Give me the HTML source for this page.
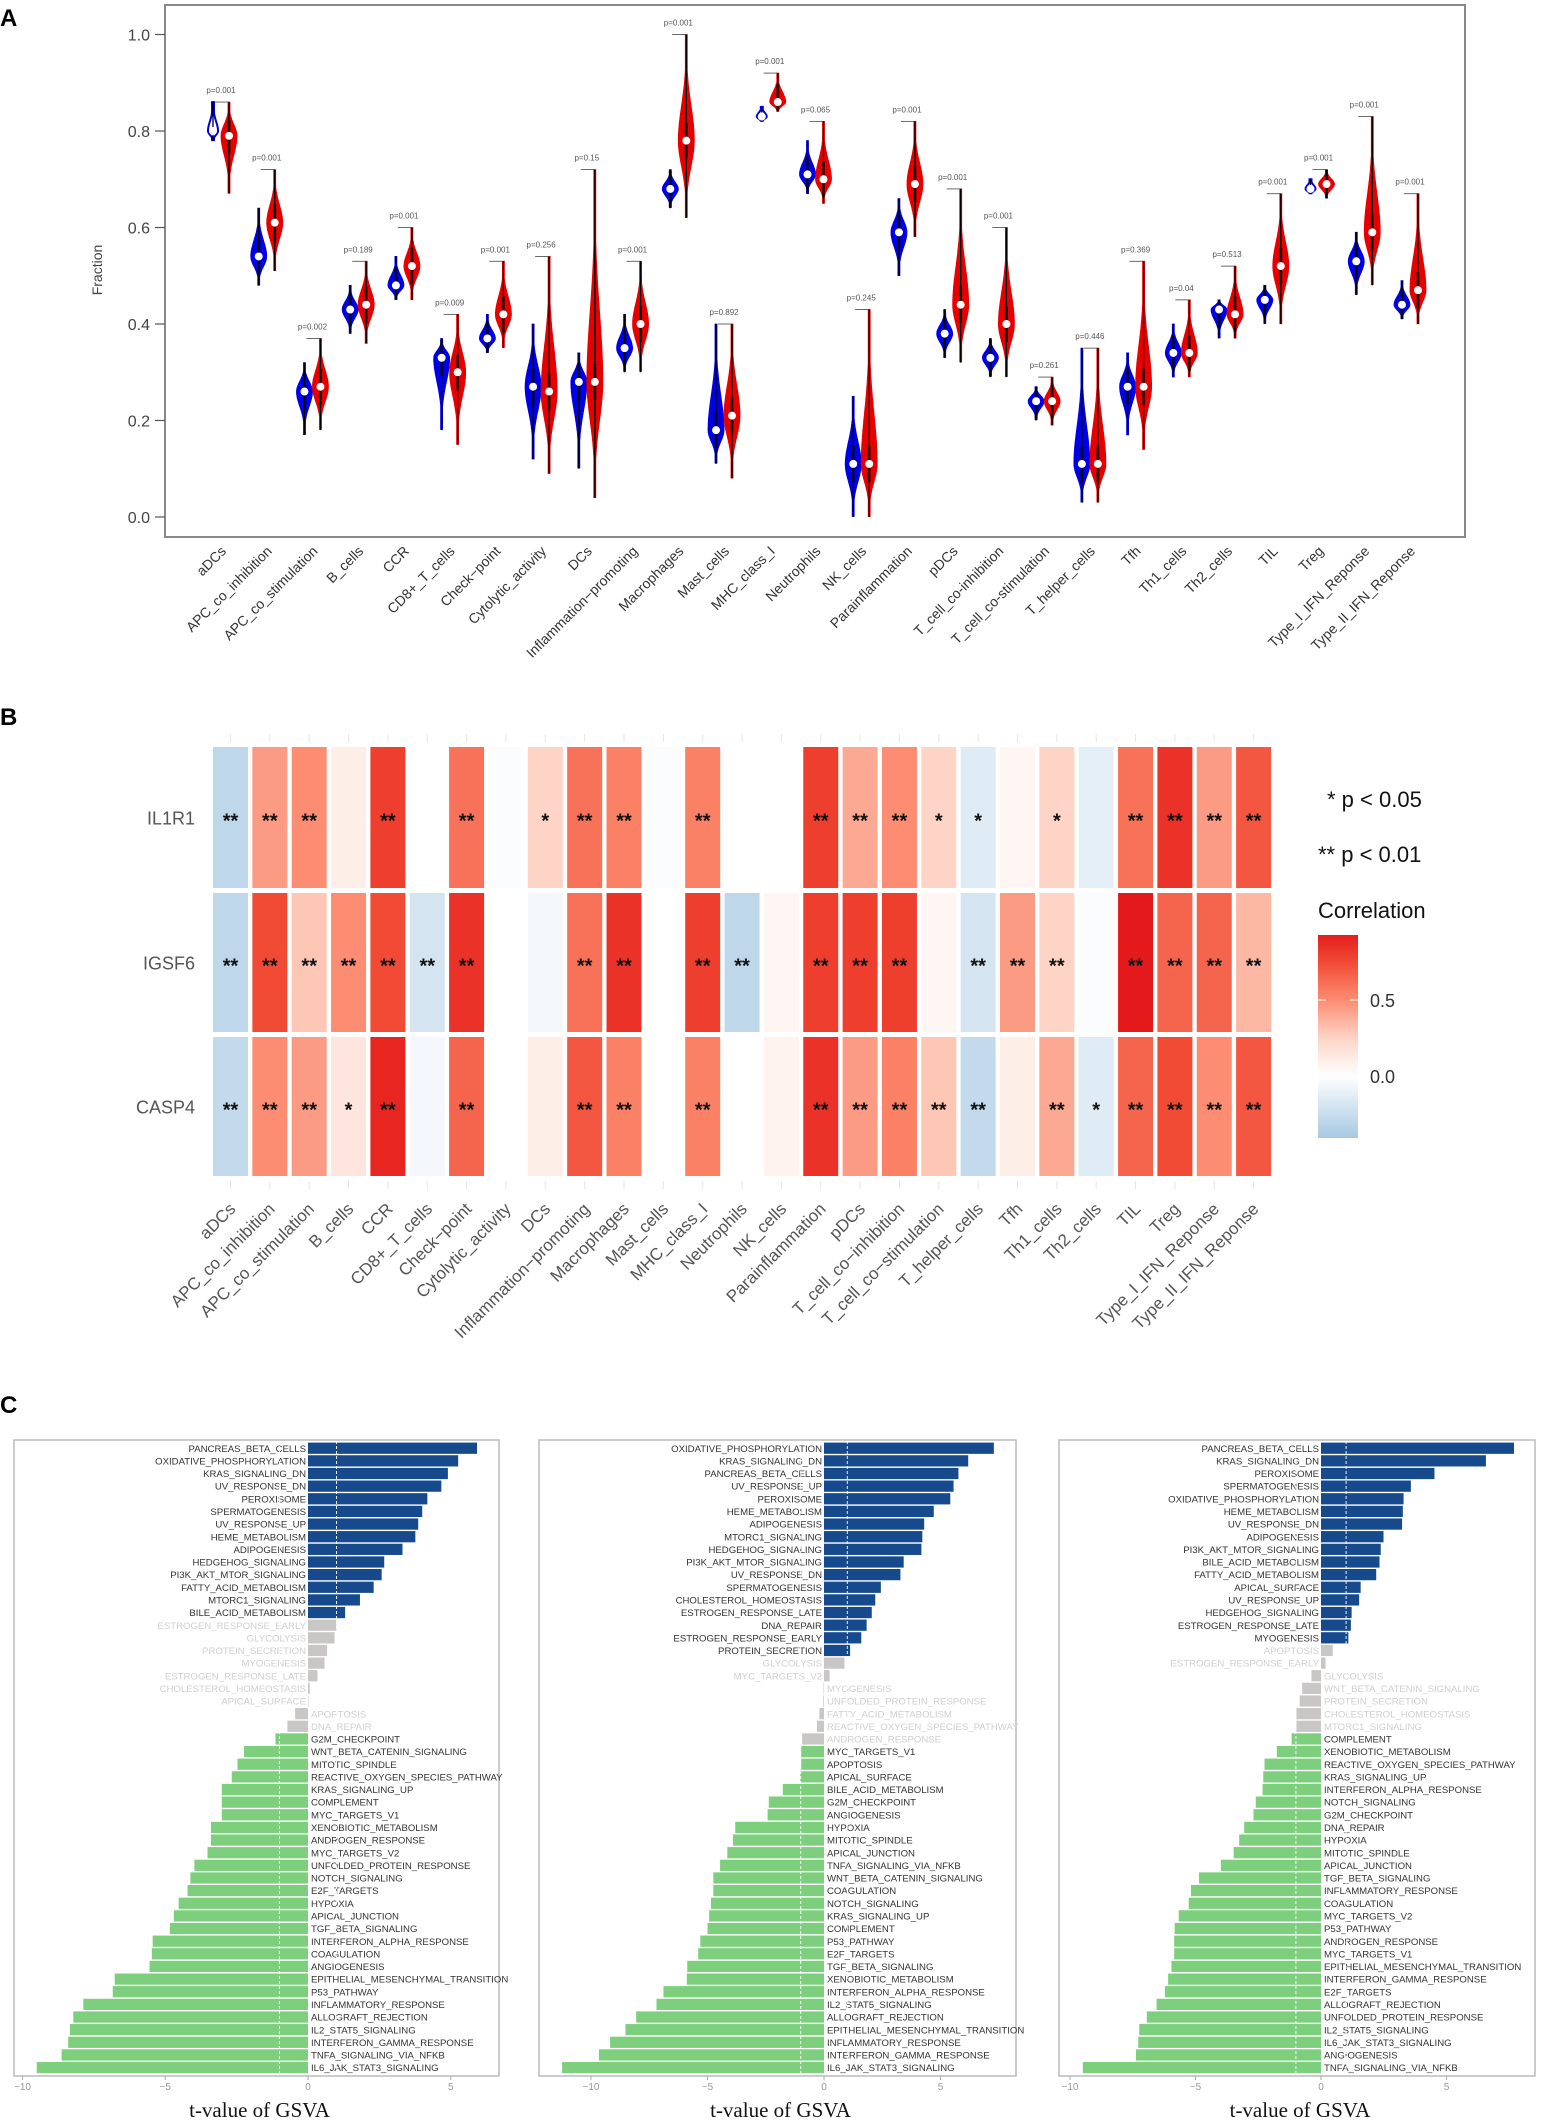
<!DOCTYPE html>
<html><head><meta charset="utf-8">
<style>
html,body{margin:0;padding:0;background:#fff;}
svg{display:block;font-family:"Liberation Sans",Arial,sans-serif;}
</style></head>
<body>
<svg id="s" width="1549" height="2120" viewBox="0 0 1549 2120" xmlns="http://www.w3.org/2000/svg">
<rect width="1549" height="2120" fill="#fff"/>
<text x="0" y="26" font-size="24" font-weight="bold" fill="#000">A</text>
<text x="0" y="725" font-size="24" font-weight="bold" fill="#000">B</text>
<text x="0" y="1413" font-size="24" font-weight="bold" fill="#000">C</text>
<g id="ga"></g><g id="gb"></g><g id="gc"></g>
</svg>
<script>
var NS="http://www.w3.org/2000/svg";
function el(p,t,a,txt){var e=document.createElementNS(NS,t);for(var k in a)e.setAttribute(k,a[k]);if(txt!==undefined)e.textContent=txt;p.appendChild(e);return e;}
var cats=["aDCs","APC_co_inhibition","APC_co_stimulation","B_cells","CCR","CD8+_T_cells","Check-point","Cytolytic_activity","DCs","Inflammation-promoting","Macrophages","Mast_cells","MHC_class_I","Neutrophils","NK_cells","Parainflammation","pDCs","T_cell_co-inhibition","T_cell_co-stimulation","T_helper_cells","Tfh","Th1_cells","Th2_cells","TIL","Treg","Type_I_IFN_Reponse","Type_II_IFN_Reponse"];
// ---------- Panel A
var ga=document.getElementById("ga");
function Y(v){return 517-482.5*v;}
el(ga,"rect",{x:165,y:5,width:1300,height:532,fill:"none",stroke:"#888","stroke-width":2});
[0,0.2,0.4,0.6,0.8,1.0].forEach(function(v){var y=Y(v);el(ga,"line",{x1:155,x2:165,y1:y,y2:y,stroke:"#555","stroke-width":1.2});el(ga,"text",{x:150,y:y+6,"font-size":16,"text-anchor":"end",fill:"#444"},v.toFixed(1));});
el(ga,"text",{x:102,y:270,"font-size":14,fill:"#444","text-anchor":"middle",transform:"rotate(-90 102 270)"},"Fraction");
var A=[[.80,.78,.86,.79,.67,.86,"0.001"],[.54,.48,.64,.61,.51,.72,"0.001"],[.26,.17,.32,.27,.18,.37,"0.002"],[.43,.38,.48,.44,.36,.53,"0.189"],[.48,.45,.54,.52,.45,.60,"0.001"],[.33,.18,.37,.30,.15,.42,"0.009"],[.37,.34,.42,.42,.35,.53,"0.001"],[.27,.12,.40,.26,.09,.54,"0.256"],[.28,.10,.34,.28,.04,.72,"0.15"],[.35,.30,.42,.40,.30,.53,"0.001"],[.68,.64,.72,.78,.62,1.0,"0.001"],[.18,.11,.40,.21,.08,.40,"0.892"],[.83,.82,.85,.86,.84,.92,"0.001"],[.71,.67,.78,.70,.65,.82,"0.065"],[.11,.0,.25,.11,.0,.43,"0.245"],[.59,.50,.66,.69,.58,.82,"0.001"],[.38,.33,.43,.44,.32,.68,"0.001"],[.33,.29,.37,.40,.29,.60,"0.001"],[.24,.20,.27,.24,.19,.29,"0.261"],[.11,.03,.35,.11,.03,.35,"0.446"],[.27,.17,.34,.27,.14,.53,"0.369"],[.34,.29,.40,.34,.29,.45,"0.04"],[.43,.37,.45,.42,.37,.52,"0.513"],[.45,.40,.48,.52,.40,.67,"0.001"],[.68,.67,.70,.69,.66,.72,"0.001"],[.53,.46,.59,.59,.48,.83,"0.001"],[.44,.41,.49,.47,.40,.67,"0.001"]];
function violin(cx,med,mn,mx,col,hollow){
  var W=hollow?5:8,ym=Y(med),yt=Y(mx),yb=Y(mn),L=[],R=[];
  var su=(ym-yt)*0.45+1,sd=(yb-ym)*0.45+1;
  for(var y=yt;y<=yb+0.01;y+=1){var s=y<ym?su:sd;var w=Math.max(1,W*Math.exp(-Math.pow((y-ym)/s,2)));L.push((cx-w).toFixed(1)+","+y.toFixed(1));R.unshift((cx+w).toFixed(1)+","+y.toFixed(1));}
  el(ga,"polygon",{points:L.concat(R).join(" "),fill:hollow?"#fff":col,stroke:col,"stroke-width":hollow?2:0.8});
  el(ga,"line",{x1:cx,x2:cx,y1:yt,y2:yb,stroke:"#000","stroke-width":1.3});
  if(!hollow)el(ga,"line",{x1:cx,x2:cx,y1:Math.max(yt,ym-18),y2:Math.min(yb,ym+18),stroke:"#000","stroke-width":3,opacity:0.6});
  el(ga,"circle",{cx:cx,cy:ym,r:4,fill:"#fff"});
}
A.forEach(function(d,i){
  var c=221+i*45.73,bx=c-8,rx=c+8;
  violin(bx,d[0],d[1],d[2],"#0000e6",i==0||i==12||i==24);
  violin(rx,d[3],d[4],d[5],"#e60000",false);
  var top=Y(Math.max(d[2],d[5]));
  el(ga,"line",{x1:bx+2,x2:rx,y1:top,y2:top,stroke:"#444","stroke-width":0.8});
  el(ga,"text",{x:c,y:top-9,"font-size":8,"text-anchor":"middle",fill:"#555"},"p="+d[6]);
  el(ga,"text",{x:c+6,y:552,"font-size":14,"text-anchor":"end",fill:"#333",transform:"rotate(-45 "+(c+6)+" 552)"},cats[i].replace("Inflammation-promoting","Inflammation\u2212promoting").replace("Check-point","Check\u2212point"));
});
// ---------- Panel B
var gb=document.getElementById("gb");
var H=[[-.3,.45,.5,.1,.8,0,.6,-.02,.25,.6,.55,-.02,.55,0,0,.8,.4,.5,.25,-.15,.05,.25,-.12,.6,.85,.45,.7],
[-.3,.75,.3,.5,.75,-.2,.85,0,-.05,.6,.85,0,.8,-.3,.05,.8,.8,.8,.05,-.2,.45,.25,-.02,.95,.65,.65,.35],
[-.28,.5,.45,.15,.9,-.05,.65,0,.1,.7,.55,0,.55,0,.07,.85,.45,.55,.3,-.28,.1,.4,-.15,.65,.75,.5,.7]];
var S=[["**","**","**","","**","","**","","*","**","**","","**","","","**","**","**","*","*","","*","","**","**","**","**"],
["**","**","**","**","**","**","**","","","**","**","","**","**","","**","**","**","","**","**","**","","**","**","**","**"],
["**","**","**","*","**","","**","","","**","**","","**","","","**","**","**","**","**","","**","*","**","**","**","**"]];
function lerp(a,b,t){return [0,1,2].map(function(i){return Math.round(a[i]+(b[i]-a[i])*t);});}
function cmap(v){
  var st=[[-0.45,[158,195,224]],[0,[255,255,255]],[0.25,[253,212,198]],[0.5,[252,141,114]],[0.75,[241,74,53]],[0.95,[227,25,27]]];
  if(v<=st[0][0])return "rgb("+st[0][1]+")";
  for(var i=0;i<st.length-1;i++){if(v<=st[i+1][0]){var t=(v-st[i][0])/(st[i+1][0]-st[i][0]);return "rgb("+lerp(st[i][1],st[i+1][1],t)+")";}}
  return "rgb("+st[st.length-1][1]+")";
}
var rows=[[747,888],[893,1032],[1037,1176]],names=["IL1R1","IGSF6","CASP4"];
for(var j=0;j<27;j++){var cx=230.5+j*39.35;
  el(gb,"line",{x1:cx,x2:cx,y1:734,y2:742,stroke:"#e6e6e6","stroke-width":1});
  el(gb,"line",{x1:cx,x2:cx,y1:1181,y2:1189,stroke:"#e6e6e6","stroke-width":1});
}
for(var r=0;r<3;r++){
  el(gb,"text",{x:195,y:(rows[r][0]+rows[r][1])/2+7,"font-size":18,"text-anchor":"end",fill:"#555"},names[r]);
  for(var j=0;j<27;j++){var cx=230.5+j*39.35;
    el(gb,"rect",{x:cx-17.5,y:rows[r][0],width:35,height:rows[r][1]-rows[r][0],fill:cmap(H[r][j])});
    if(S[r][j])el(gb,"text",{x:cx,y:(rows[r][0]+rows[r][1])/2+10,"font-size":20,"font-weight":"bold","text-anchor":"middle",fill:"#111"},S[r][j]);
  }
}
for(var j=0;j<27;j++){var cx=230.5+j*39.35+6;
  el(gb,"text",{x:cx,y:1210,"font-size":17,"text-anchor":"end",fill:"#555",transform:"rotate(-45 "+cx+" 1210)"},cats[j].replace("Inflammation-promoting","Inflammation\u2212promoting").replace("Check-point","Check\u2212point").replace("co-","co\u2212"));
}
el(gb,"text",{x:1327,y:807,"font-size":22,fill:"#111"},"* p < 0.05");
el(gb,"text",{x:1318,y:862,"font-size":22,fill:"#111"},"** p < 0.01");
el(gb,"text",{x:1318,y:918,"font-size":22,fill:"#111"},"Correlation");
var defs=el(gb,"defs",{});var lg=el(defs,"linearGradient",{id:"cb",x1:0,y1:1,x2:0,y2:0});
for(var k=0;k<=20;k++){var v=-0.41+k*(1.34/20);el(lg,"stop",{offset:(k/20),"stop-color":cmap(v)});}
el(gb,"rect",{x:1318,y:935,width:40,height:203,fill:"url(#cb)"});
el(gb,"line",{x1:1318,x2:1326,y1:1000,y2:1000,stroke:"#fff"});el(gb,"line",{x1:1350,x2:1358,y1:1000,y2:1000,stroke:"#fff"});
el(gb,"line",{x1:1318,x2:1326,y1:1076,y2:1076,stroke:"#fff"});el(gb,"line",{x1:1350,x2:1358,y1:1076,y2:1076,stroke:"#fff"});
el(gb,"text",{x:1370,y:1007,"font-size":18,fill:"#333"},"0.5");
el(gb,"text",{x:1370,y:1083,"font-size":18,fill:"#333"},"0.0");
// ---------- Panel C
var gc=document.getElementById("gc");
var C=[
{x0:14,x1:499,z:308,u:28.55,nb:14,ng:9,d:[["PANCREAS_BETA_CELLS",5.92],["OXIDATIVE_PHOSPHORYLATION",5.26],["KRAS_SIGNALING_DN",4.9],["UV_RESPONSE_DN",4.67],["PEROXISOME",4.18],["SPERMATOGENESIS",4.0],["UV_RESPONSE_UP",3.86],["HEME_METABOLISM",3.76],["ADIPOGENESIS",3.31],["HEDGEHOG_SIGNALING",2.67],["PI3K_AKT_MTOR_SIGNALING",2.58],["FATTY_ACID_METABOLISM",2.3],["MTORC1_SIGNALING",1.82],["BILE_ACID_METABOLISM",1.3],["ESTROGEN_RESPONSE_EARLY",.99],["GLYCOLYSIS",.93],["PROTEIN_SECRETION",.67],["MYOGENESIS",.58],["ESTROGEN_RESPONSE_LATE",.33],["CHOLESTEROL_HOMEOSTASIS",.06],["APICAL_SURFACE",0.001],["APOPTOSIS",-.45],["DNA_REPAIR",-.72],["G2M_CHECKPOINT",-1.14],["WNT_BETA_CATENIN_SIGNALING",-2.24],["MITOTIC_SPINDLE",-2.47],["REACTIVE_OXYGEN_SPECIES_PATHWAY",-2.67],["KRAS_SIGNALING_UP",-3.02],["COMPLEMENT",-3.02],["MYC_TARGETS_V1",-3.02],["XENOBIOTIC_METABOLISM",-3.4],["ANDROGEN_RESPONSE",-3.4],["MYC_TARGETS_V2",-3.52],["UNFOLDED_PROTEIN_RESPONSE",-3.98],["NOTCH_SIGNALING",-4.12],["E2F_TARGETS",-4.22],["HYPOXIA",-4.53],["APICAL_JUNCTION",-4.7],["TGF_BETA_SIGNALING",-4.84],["INTERFERON_ALPHA_RESPONSE",-5.44],["COAGULATION",-5.47],["ANGIOGENESIS",-5.55],["EPITHELIAL_MESENCHYMAL_TRANSITION",-6.77],["P53_PATHWAY",-6.84],["INFLAMMATORY_RESPONSE",-7.87],["ALLOGRAFT_REJECTION",-8.22],["IL2_STAT5_SIGNALING",-8.34],["INTERFERON_GAMMA_RESPONSE",-8.4],["TNFA_SIGNALING_VIA_NFKB",-8.63],["IL6_JAK_STAT3_SIGNALING",-9.5]]},
{x0:539,x1:1016,z:824,u:23.3,nb:17,ng:7,d:[["OXIDATIVE_PHOSPHORYLATION",7.29],["KRAS_SIGNALING_DN",6.19],["PANCREAS_BETA_CELLS",5.77],["UV_RESPONSE_UP",5.56],["PEROXISOME",5.42],["HEME_METABOLISM",4.71],["ADIPOGENESIS",4.3],["MTORC1_SIGNALING",4.22],["HEDGEHOG_SIGNALING",4.18],["PI3K_AKT_MTOR_SIGNALING",3.42],["UV_RESPONSE_DN",3.28],["SPERMATOGENESIS",2.44],["CHOLESTEROL_HOMEOSTASIS",2.2],["ESTROGEN_RESPONSE_LATE",2.05],["DNA_REPAIR",1.83],["ESTROGEN_RESPONSE_EARLY",1.6],["PROTEIN_SECRETION",1.12],["GLYCOLYSIS",.88],["MYC_TARGETS_V2",.24],["MYOGENESIS",-0.02],["UNFOLDED_PROTEIN_RESPONSE",-.03],["FATTY_ACID_METABOLISM",-.2],["REACTIVE_OXYGEN_SPECIES_PATHWAY",-.3],["ANDROGEN_RESPONSE",-.94],["MYC_TARGETS_V1",-.98],["APOPTOSIS",-.98],["APICAL_SURFACE",-1.02],["BILE_ACID_METABOLISM",-1.77],["G2M_CHECKPOINT",-2.37],["ANGIOGENESIS",-2.42],["HYPOXIA",-3.81],["MITOTIC_SPINDLE",-3.91],["APICAL_JUNCTION",-4.15],["TNFA_SIGNALING_VIA_NFKB",-4.46],["WNT_BETA_CATENIN_SIGNALING",-4.75],["COAGULATION",-4.75],["NOTCH_SIGNALING",-4.85],["KRAS_SIGNALING_UP",-4.93],["COMPLEMENT",-5.0],["P53_PATHWAY",-5.31],["E2F_TARGETS",-5.4],["TGF_BETA_SIGNALING",-5.87],["XENOBIOTIC_METABOLISM",-5.89],["INTERFERON_ALPHA_RESPONSE",-6.89],["IL2_STAT5_SIGNALING",-7.19],["ALLOGRAFT_REJECTION",-8.06],["EPITHELIAL_MESENCHYMAL_TRANSITION",-8.52],["INFLAMMATORY_RESPONSE",-9.18],["INTERFERON_GAMMA_RESPONSE",-9.66],["IL6_JAK_STAT3_SIGNALING",-11.24]]},
{x0:1059,x1:1535,z:1321,u:25.1,nb:16,ng:7,d:[["PANCREAS_BETA_CELLS",7.69],["KRAS_SIGNALING_DN",6.57],["PEROXISOME",4.52],["SPERMATOGENESIS",3.58],["OXIDATIVE_PHOSPHORYLATION",3.29],["HEME_METABOLISM",3.26],["UV_RESPONSE_DN",3.23],["ADIPOGENESIS",2.49],["PI3K_AKT_MTOR_SIGNALING",2.38],["BILE_ACID_METABOLISM",2.33],["FATTY_ACID_METABOLISM",2.2],["APICAL_SURFACE",1.58],["UV_RESPONSE_UP",1.52],["HEDGEHOG_SIGNALING",1.22],["ESTROGEN_RESPONSE_LATE",1.19],["MYOGENESIS",1.09],["APOPTOSIS",.47],["ESTROGEN_RESPONSE_EARLY",.18],["GLYCOLYSIS",-.38],["WNT_BETA_CATENIN_SIGNALING",-.75],["PROTEIN_SECRETION",-.85],["CHOLESTEROL_HOMEOSTASIS",-.98],["MTORC1_SIGNALING",-.98],["COMPLEMENT",-1.17],["XENOBIOTIC_METABOLISM",-1.76],["REACTIVE_OXYGEN_SPECIES_PATHWAY",-2.25],["KRAS_SIGNALING_UP",-2.3],["INTERFERON_ALPHA_RESPONSE",-2.33],["NOTCH_SIGNALING",-2.6],["G2M_CHECKPOINT",-2.69],["DNA_REPAIR",-3.06],["HYPOXIA",-3.26],["MITOTIC_SPINDLE",-3.48],["APICAL_JUNCTION",-3.99],["TGF_BETA_SIGNALING",-4.86],["INFLAMMATORY_RESPONSE",-5.18],["COAGULATION",-5.27],["MYC_TARGETS_V2",-5.67],["P53_PATHWAY",-5.83],["ANDROGEN_RESPONSE",-5.85],["MYC_TARGETS_V1",-5.85],["EPITHELIAL_MESENCHYMAL_TRANSITION",-5.96],["INTERFERON_GAMMA_RESPONSE",-6.09],["E2F_TARGETS",-6.22],["ALLOGRAFT_REJECTION",-6.55],["UNFOLDED_PROTEIN_RESPONSE",-6.94],["IL2_STAT5_SIGNALING",-7.24],["IL6_JAK_STAT3_SIGNALING",-7.28],["ANGIOGENESIS",-7.37],["TNFA_SIGNALING_VIA_NFKB",-9.49]]}];
C.forEach(function(p){
  el(gc,"rect",{x:p.x0,y:1440,width:p.x1-p.x0,height:636,fill:"#fff",stroke:"#bbb","stroke-width":1.5});
  var pitch=632/50;
  p.d.forEach(function(d,i){
    var y=1442+i*pitch,v=d[1],col,tc;
    if(i<p.nb){col="#164a8c";tc="#333";}else if(i<p.nb+p.ng){col="#c9c6c6";tc="#cfcfcf";}else{col="#7dcf7d";tc="#333";}
    var xa=p.z+Math.min(0,v)*p.u,w=Math.abs(v)*p.u;
    el(gc,"rect",{x:xa,y:y+0.6,width:Math.max(w,0.5),height:pitch-1.4,fill:col});
    if(v>0)el(gc,"text",{x:p.z-2,y:y+pitch/2+3.5,"font-size":9.6,"text-anchor":"end",fill:tc},d[0]);
    else el(gc,"text",{x:p.z+3,y:y+pitch/2+3.5,"font-size":9.6,fill:tc},d[0]);
  });
  [-1,1].forEach(function(t){var x=p.z+t*p.u;el(gc,"line",{x1:x,x2:x,y1:1441,y2:2075,stroke:"#fff","stroke-width":1,"stroke-dasharray":"3,2",opacity:0.9});});
  [-10,-5,0,5].forEach(function(t){var x=p.z+t*p.u;el(gc,"line",{x1:x,x2:x,y1:2076,y2:2080,stroke:"#aaa"});el(gc,"text",{x:x,y:2090,"font-size":10,"text-anchor":"middle",fill:"#999"},t<0?"\u2212"+(-t):t);});
  el(gc,"text",{x:(p.x0+p.x1)/2+3,y:2117,"font-size":21,"text-anchor":"middle",fill:"#111","font-family":"Liberation Serif, serif"},"t-value of GSVA");
});
</script>
</body></html>
